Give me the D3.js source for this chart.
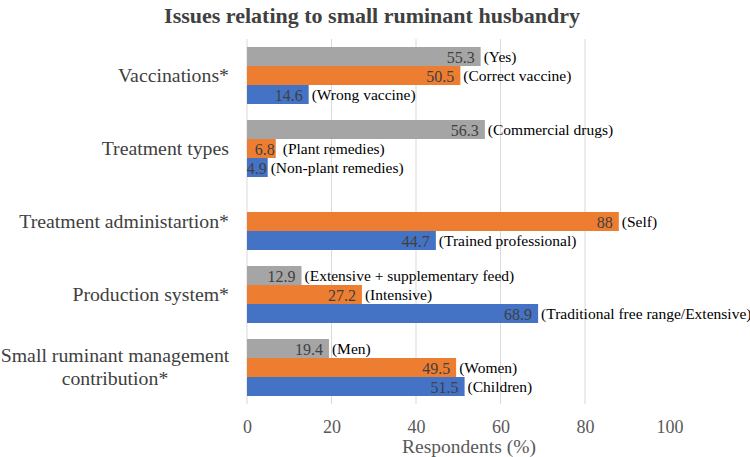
<!doctype html>
<html lang="en">
<head>
    <meta charset="UTF-8">
    <script src="https://d3js.org/d3.v7.min.js"></script>
    <title>Issues relating to small ruminant husbandry</title>
    <style>
        body { margin: 0; background: #fff; }
        svg text { font-family: "Liberation Serif", "Times New Roman", serif; }
        .title { font-size: 22px; font-weight: bold; fill: #404040; }
        .cat { font-size: 19.8px; fill: #404040; }
        .tick text { font-size: 18px; fill: #595959; }
        .val { font-size: 16px; fill: #404040; }
        .note { font-size: 15.5px; fill: #000; }
        .axis-title { font-size: 19.5px; fill: #595959; }
    </style>
</head>
<body>
<svg id="chart" width="750" height="457"></svg>
<script>
    // categories top to bottom
    var categories = ["Vaccinations*", "Treatment types", "Treatment administartion*",
        "Production system*", "Small ruminant management contribution*"];
    // three bars per category: gray (top), orange, blue (bottom)
    var grayValues = [55.3, 56.3, null, 12.9, 19.4];
    var grayNotes = ["(Yes)", "(Commercial drugs)", "", "(Extensive + supplementary feed)", "(Men)"];
    var orangeValues = [50.5, 6.8, 88, 27.2, 49.5];
    var orangeNotes = ["(Correct vaccine)", "(Plant remedies)", "(Self)", "(Intensive)", "(Women)"];
    var blueValues = [14.6, 4.9, 44.7, 68.9, 51.5];
    var blueNotes = ["(Wrong vaccine)", "(Non-plant remedies)", "(Trained professional)",
        "(Traditional free range/Extensive)", "(Children)"];
    var xTicks = [0, 20, 40, 60, 80, 100];

    var series = [
        {key: "gray", color: "#a5a5a5", values: grayValues, notes: grayNotes},
        {key: "orange", color: "#ed7d31", values: orangeValues, notes: orangeNotes},
        {key: "blue", color: "#4472c4", values: blueValues, notes: blueNotes}
    ];

    var svg = d3.select("#chart");
    var plotLeft = 247, plotRight = 669.5, plotTop = 39, plotBottom = 404;

    var x = d3.scaleLinear().domain([0, 100]).range([plotLeft, plotRight]);
    var y = d3.scaleBand().domain(categories).range([plotTop, plotBottom]).paddingInner(16 / 73).paddingOuter(8 / 73);
    var y1 = d3.scaleBand().domain(series.map(function (s) { return s.key; })).range([0, y.bandwidth()]);

    svg.append("text")
        .attr("class", "title")
        .attr("x", 372)
        .attr("y", 23)
        .attr("text-anchor", "middle")
        .text("Issues relating to small ruminant husbandry");

    // gridlines (no line at 100)
    svg.append("g")
        .selectAll("line")
        .data(xTicks.filter(function (d) { return d < 100; }))
        .enter()
        .append("line")
        .attr("x1", function (d) { return x(d); })
        .attr("x2", function (d) { return x(d); })
        .attr("y1", plotTop)
        .attr("y2", plotBottom)
        .attr("stroke", "#d9d9d9")
        .attr("stroke-width", 1);

    var xAxis = d3.axisBottom(x).tickValues(xTicks).tickSize(0).tickPadding(0);
    var ax = svg.append("g")
        .attr("transform", "translate(0," + 420 + ")")
        .call(xAxis);
    ax.select(".domain").remove();
    ax.selectAll(".tick text").attr("dy", "0.71em");

    svg.append("text")
        .attr("class", "axis-title")
        .attr("x", 469)
        .attr("y", 453)
        .attr("text-anchor", "middle")
        .text("Respondents (%)");

    // category labels
    var catG = svg.append("g");
    categories.forEach(function (c) {
        var cy = y(c) + y.bandwidth() / 2;
        if (c.indexOf("Small ruminant") === 0) {
            var t = catG.append("text").attr("class", "cat").attr("text-anchor", "middle");
            t.append("tspan").attr("x", 115).attr("y", cy - 6).text("Small ruminant management");
            t.append("tspan").attr("x", 115).attr("y", cy + 17).text("contribution*");
        } else {
            catG.append("text")
                .attr("class", "cat")
                .attr("x", 229)
                .attr("y", cy)
                .attr("dy", "0.35em")
                .attr("text-anchor", "end")
                .text(c);
        }
    });

    // bars
    series.forEach(function (s) {
        var rows = categories.map(function (c, i) {
            return {cat: c, v: s.values[i], note: s.notes[i]};
        }).filter(function (d) { return d.v !== null; });

        var g = svg.append("g");
        g.selectAll("rect")
            .data(rows)
            .enter()
            .append("rect")
            .attr("x", x(0))
            .attr("y", function (d) { return y(d.cat) + y1(s.key); })
            .attr("width", function (d) { return x(d.v) - x(0); })
            .attr("height", y1.bandwidth())
            .attr("fill", s.color);

        g.selectAll(".val")
            .data(rows)
            .enter()
            .append("text")
            .attr("class", "val")
            .attr("x", function (d) { return x(d.v) - (d.v < 10 ? 1 : 6); })
            .attr("y", function (d) { return y(d.cat) + y1(s.key) + y1.bandwidth() / 2; })
            .attr("dy", "0.38em")
            .attr("text-anchor", "end")
            .text(function (d) { return d.v; });

        g.selectAll(".note")
            .data(rows)
            .enter()
            .append("text")
            .attr("class", "note")
            .attr("x", function (d) { return x(d.v) + (d.v < 10 && s.key === "orange" ? 7 : 3); })
            .attr("y", function (d) { return y(d.cat) + y1(s.key) + y1.bandwidth() / 2; })
            .attr("dy", "0.38em")
            .text(function (d) { return d.note; });
    });
</script>
</body>
</html>
